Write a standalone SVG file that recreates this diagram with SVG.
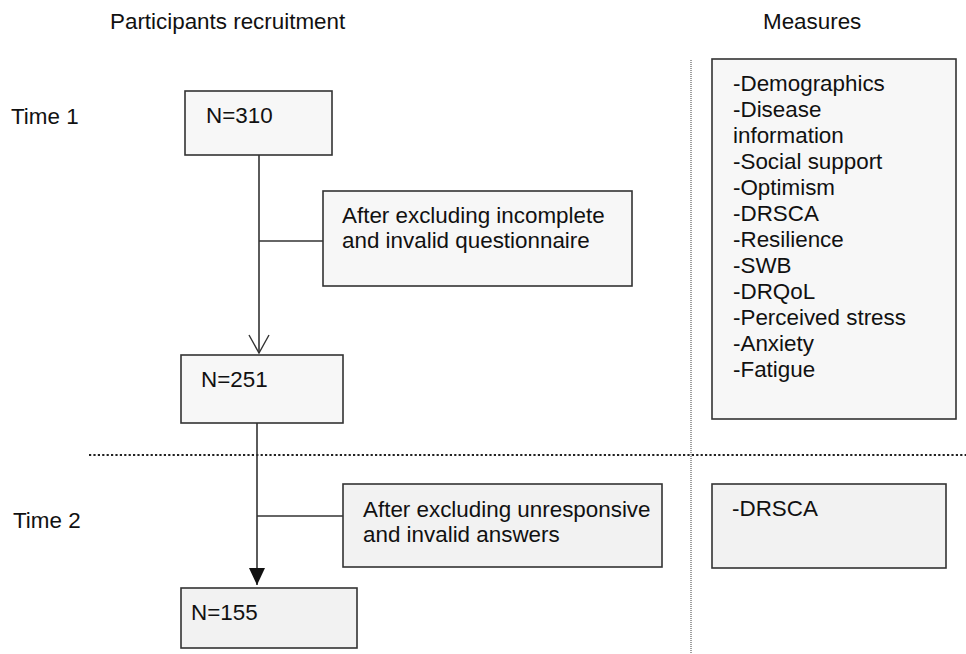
<svg xmlns="http://www.w3.org/2000/svg" width="966" height="654" viewBox="0 0 966 654">
  <style>
    text { font-family: "Liberation Sans", Arial, sans-serif; font-size: 22.4px; fill: #111; }
    .box { stroke: #333; stroke-width: 1.6; }
    .top { fill: #f7f7f7; }
    .low { fill: #f2f2f2; }
    .wire { stroke: #333; stroke-width: 1.6; fill: none; }
  </style>
  <defs>
    <!-- arrowheads drawn pointing along +x so orient="auto" follows the line -->
    <marker id="openArrow" viewBox="0 0 20 22" refX="19" refY="11" markerWidth="20" markerHeight="22" markerUnits="userSpaceOnUse" orient="auto">
      <path d="M1,1 L19,11 L1,21" fill="none" stroke="#333" stroke-width="1.4"/>
    </marker>
    <marker id="solidArrow" viewBox="0 0 17 16" refX="17" refY="8" markerWidth="17" markerHeight="16" markerUnits="userSpaceOnUse" orient="auto">
      <path d="M0,0 L17,8 L0,16 Z" fill="#111"/>
    </marker>
  </defs>

  <rect width="966" height="654" fill="#ffffff"/>

  <!-- column and row headings -->
  <text x="110" y="29">Participants recruitment</text>
  <text x="763" y="29">Measures</text>
  <text x="11" y="124">Time 1</text>
  <text x="13" y="528">Time 2</text>

  <!-- separators -->
  <line x1="89" y1="455" x2="966" y2="455" stroke="#222" stroke-width="2" stroke-dasharray="2.2 2.2"/>
  <line x1="691" y1="60" x2="691" y2="654" stroke="#777" stroke-width="1.4" stroke-dasharray="1 1"/>

  <!-- connectors -->
  <g id="connectors">
    <line class="wire" x1="259" y1="155" x2="259" y2="353" marker-end="url(#openArrow)"/>
    <line class="wire" x1="259" y1="241" x2="323" y2="241"/>
    <line class="wire" x1="257" y1="423" x2="257" y2="572"/>
    <line class="wire" x1="257" y1="568" x2="257" y2="585" stroke="none" marker-end="url(#solidArrow)"/>
    <line class="wire" x1="257" y1="516" x2="343" y2="516"/>
  </g>

  <g id="n310">
    <rect class="box top" x="185" y="91" width="147" height="64"/>
    <text x="206" y="123">N=310</text>
  </g>

  <g id="exclude1">
    <rect class="box top" x="323" y="191" width="309" height="95"/>
    <text x="342" y="223">After excluding incomplete</text>
    <text x="342" y="248">and invalid questionnaire</text>
  </g>

  <g id="n251">
    <rect class="box top" x="181" y="355" width="162" height="68"/>
    <text x="201" y="387">N=251</text>
  </g>

  <g id="exclude2">
    <rect class="box low" x="343" y="484" width="319" height="83"/>
    <text x="363" y="517">After excluding unresponsive</text>
    <text x="363" y="542">and invalid answers</text>
  </g>

  <g id="n155">
    <rect class="box low" x="181" y="588" width="176" height="60"/>
    <text x="191" y="620">N=155</text>
  </g>

  <g id="measures1">
    <rect class="box top" x="712" y="59" width="244" height="360"/>
    <text x="733" y="91">-Demographics</text>
    <text x="733" y="117">-Disease</text>
    <text x="733" y="143">information</text>
    <text x="733" y="169">-Social support</text>
    <text x="733" y="195">-Optimism</text>
    <text x="733" y="221">-DRSCA</text>
    <text x="733" y="247">-Resilience</text>
    <text x="733" y="273">-SWB</text>
    <text x="733" y="299">-DRQoL</text>
    <text x="733" y="325">-Perceived stress</text>
    <text x="733" y="351">-Anxiety</text>
    <text x="733" y="377">-Fatigue</text>
  </g>

  <g id="measures2">
    <rect class="box low" x="712" y="484" width="234" height="84"/>
    <text x="732" y="516">-DRSCA</text>
  </g>
</svg>
